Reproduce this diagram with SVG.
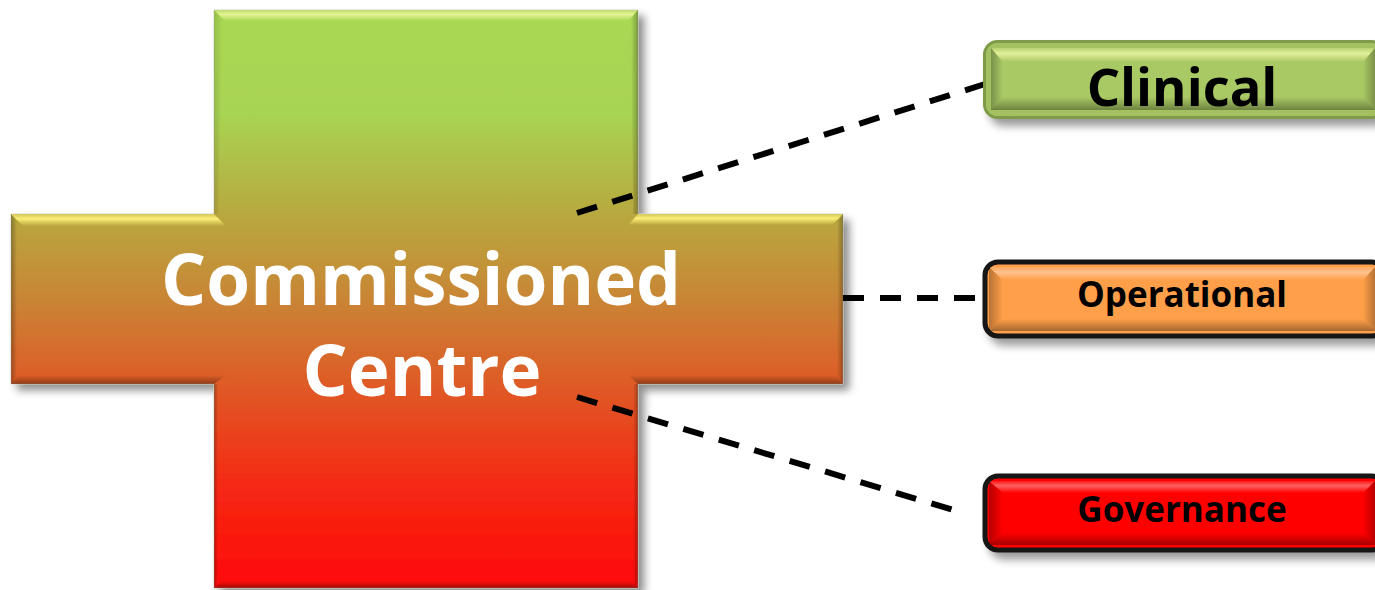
<svg xmlns="http://www.w3.org/2000/svg" width="1375" height="590" viewBox="0 0 1375 590">
<style>
text{font-family:"Open Sans","Noto Sans","Liberation Sans",sans-serif;font-weight:700;text-anchor:middle}
.conn{fill:none;stroke:#000;stroke-width:6;stroke-dasharray:21 16}
.label{fill:#000}
.top{fill:url(#bevelTop)}
.topY{fill:url(#bevelTopY)}
.bot{fill:url(#bevelBot)}
.lft{fill:url(#bevelLeft)}
.rgt{fill:url(#bevelRight)}
</style>
<defs>
<linearGradient id="crossFill" gradientUnits="userSpaceOnUse" x1="0" y1="10" x2="0" y2="588">
<stop offset="0" stop-color="#a9d852"/><stop offset=".18" stop-color="#a8d452"/><stop offset=".35" stop-color="#b8a93f"/><stop offset=".5" stop-color="#c98535"/><stop offset=".65" stop-color="#df5a26"/><stop offset=".82" stop-color="#f52a14"/><stop offset="1" stop-color="#ff0808"/>
</linearGradient>
<linearGradient id="bevelTop" x1="0" y1="0" x2="0" y2="1"><stop offset="0" stop-color="#fbffb0" stop-opacity=".2"/><stop offset=".4" stop-color="#fbffb0" stop-opacity=".7"/><stop offset="1" stop-color="#fbffb0" stop-opacity="0"/></linearGradient>
<linearGradient id="bevelTopBox" x1="0" y1="0" x2="0" y2="1"><stop offset="0" stop-color="#fff" stop-opacity=".1"/><stop offset=".4" stop-color="#fff" stop-opacity=".38"/><stop offset="1" stop-color="#fff" stop-opacity="0"/></linearGradient>
<linearGradient id="bevelTopY" x1="0" y1="0" x2="0" y2="1"><stop offset="0" stop-color="#fff27a" stop-opacity=".4"/><stop offset=".4" stop-color="#fff27a" stop-opacity=".95"/><stop offset="1" stop-color="#fff27a" stop-opacity="0"/></linearGradient>
<linearGradient id="bevelBot" x1="0" y1="0" x2="0" y2="1"><stop offset="0" stop-color="#000" stop-opacity="0"/><stop offset="1" stop-color="#000" stop-opacity=".35"/></linearGradient>
<linearGradient id="bevelLeft" x1="0" y1="0" x2="1" y2="0"><stop offset="0" stop-color="#000" stop-opacity=".28"/><stop offset="1" stop-color="#000" stop-opacity="0"/></linearGradient>
<linearGradient id="bevelRight" x1="0" y1="0" x2="1" y2="0"><stop offset="0" stop-color="#000" stop-opacity="0"/><stop offset="1" stop-color="#000" stop-opacity=".28"/></linearGradient>
<linearGradient id="hiLeft" x1="0" y1="0" x2="1" y2="0"><stop offset="0" stop-color="#000" stop-opacity=".12"/><stop offset="1" stop-color="#000" stop-opacity="0"/></linearGradient>
<filter id="shadow" x="-5%" y="-5%" width="112%" height="112%"><feGaussianBlur in="SourceAlpha" stdDeviation="4"/><feOffset dx="6" dy="6"/><feComponentTransfer><feFuncA type="linear" slope=".45"/></feComponentTransfer><feMerge><feMergeNode/><feMergeNode in="SourceGraphic"/></feMerge></filter>
<filter id="shadowBox" x="-3%" y="-15%" width="106%" height="140%"><feGaussianBlur in="SourceAlpha" stdDeviation="4"/><feOffset dx="6" dy="7"/><feComponentTransfer><feFuncA type="linear" slope=".4"/></feComponentTransfer><feMerge><feMergeNode/><feMergeNode in="SourceGraphic"/></feMerge></filter>
</defs>
<rect width="1375" height="590" fill="#fff"/>
<g id="cross">
<path filter="url(#shadow)" fill="url(#crossFill)" stroke="#b9b9a0" stroke-opacity=".5" stroke-width="1" d="M214 10H638V214H843V384H638V588H214V384H11V214H214Z"/>
<polygon class="top" points="214,10 638,10 628,21 225,21"/>
<polygon fill="url(#hiLeft)" points="214,10 222,18 218,214 214,214"/>
<polygon class="rgt" points="638,10 631,18 633,214 638,214"/>
<polygon class="topY" points="11,214 214,214 226,226 23,226"/>
<polygon class="topY" points="638,214 843,214 832,225 628,225"/>
<polygon class="lft" points="11,214 17,222 17,377 11,384"/>
<polygon class="rgt" points="843,214 837,222 837,377 843,384"/>
<polygon class="bot" points="11,384 19,375 226,375 214,384"/>
<polygon class="bot" points="843,384 835,375 628,375 638,384"/>
<polygon class="bot" points="214,588 222,581 631,581 638,588"/>
<polygon class="lft" points="214,384 218,384 218,584 214,588"/>
<polygon class="rgt" points="638,384 633,384 633,584 638,588"/>
<text x="421" y="305" font-size="71" fill="#fff">Commissioned</text>
<text x="422" y="396" font-size="71" fill="#fff">Centre</text>
</g>
<g id="connectors">
<path class="conn" d="M577 213L985 84"/>
<path class="conn" d="M843 298H985"/>
<path class="conn" d="M577 397L960 512"/>
</g>
<g id="clinical">
<rect filter="url(#shadowBox)" x="984.500" y="41.500" width="400" height="76" rx="13" fill="#a3c161" stroke="#7f9a48" stroke-width="3"/>
<rect x="991" y="48" width="388" height="62" rx="5" fill="#a9c964"/>
<polygon class="top" points="991,48 1375,48 1363,62 1003,62"/>
<polygon class="bot" points="991,110 1003,97 1363,97 1375,110"/>
<polygon class="lft" points="991,48 1003,62 1003,97 991,110"/>
<polygon class="rgt" points="1375,48 1363,62 1363,97 1375,110"/>
<text class="label" x="1182" y="106" font-size="52.500">Clinical</text>
</g>
<g id="operational">
<rect filter="url(#shadowBox)" x="985" y="262" width="400" height="74" rx="13" fill="#ff9f4a" stroke="#141414" stroke-width="5"/>
<polygon fill="url(#bevelTopBox)" points="989,267 1375,267 1363,280 1003,280"/>
<polygon class="bot" points="989,331 1003,319 1363,319 1375,331"/>
<polygon class="lft" points="989,267 1003,280 1003,319 989,331"/>
<polygon class="rgt" points="1375,267 1363,280 1363,319 1375,331"/>
<text class="label" x="1182" y="307" font-size="35">Operational</text>
</g>
<g id="governance">
<rect filter="url(#shadowBox)" x="985" y="476" width="400" height="74" rx="13" fill="#ff0606" stroke="#141414" stroke-width="5"/>
<polygon fill="url(#bevelTopBox)" points="989,481 1375,481 1363,493 1003,493"/>
<polygon class="bot" points="989,545 1003,533 1363,533 1375,545"/>
<polygon class="lft" points="989,481 1003,493 1003,533 989,545"/>
<polygon class="rgt" points="1375,481 1363,493 1363,533 1375,545"/>
<text class="label" x="1182" y="522" font-size="35">Governance</text>
</g>
</svg>
